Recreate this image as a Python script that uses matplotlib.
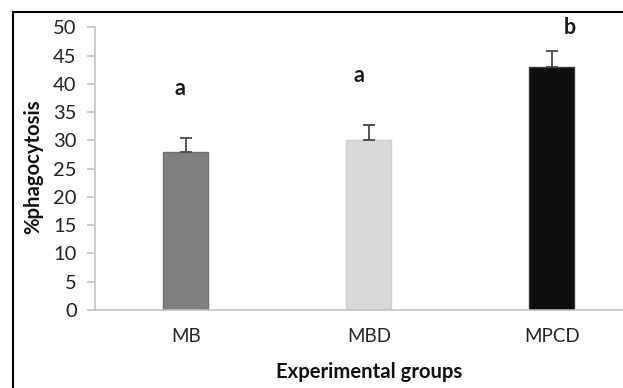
import numpy as np
import matplotlib
matplotlib.use("Agg")
import matplotlib.pyplot as plt
from matplotlib.patches import Rectangle

# ============================
# DATA
# ============================
groups = ["MB", "MBD", "MPCD"]
phago = [28.0, 30.0, 43.0]
err_up = [2.4, 2.8, 2.8]
letters = ["a", "a", "b"]
letter_x = [-0.035, 0.945, 2.10]
letter_y = [38.0, 40.3, 48.8]
colors = ["#7f7f7f", "#d9d9d9", "#0d0d0d"]
edges = ["#6f6f6f", "#cfcfcf", "#3a3a3a"]

plt.rcParams["font.family"] = ["Lato", "DejaVu Sans"]

fig = plt.figure(figsize=(6.23, 3.88), dpi=100)
ax = fig.add_axes([0.1517, 0.201, 0.881, 0.7286])

x = np.arange(len(groups))
ax.bar(x, phago, width=0.246, color=colors, edgecolor=edges, linewidth=1.0, zorder=2)
ax.errorbar(x, phago, yerr=[np.zeros(len(err_up)), err_up], fmt="none",
            ecolor="#4a4a4a", elinewidth=1.3, capsize=4, capthick=1.3, zorder=3)

for lx, ly, t in zip(letter_x, letter_y, letters):
    ax.text(lx, ly, t, ha="center", va="baseline", fontsize=15.5,
            fontweight="bold", color="#1a1a1a", clip_on=False)

# axes styling (excel look)
ax.set_xlim(-0.5, 2.5)
ax.set_ylim(0, 50)
ax.set_yticks(np.arange(0, 51, 5))
ax.set_xticks(x)
ax.set_xticklabels(groups)
for s in ["top", "right"]:
    ax.spines[s].set_visible(False)
for s in ["left", "bottom"]:
    ax.spines[s].set_color("#bfbfbf")
    ax.spines[s].set_linewidth(1.1)
ax.tick_params(axis="y", length=5.8, width=1.1, color="#bfbfbf", pad=7,
               labelsize=14.5, labelcolor="#222222")
ax.tick_params(axis="x", length=0, pad=13, labelsize=13.5, labelcolor="#222222")

fig.text(33 / 623, 1 - 167 / 388, "%phagocytosis", rotation=90, ha="center",
         va="center", fontsize=14.6, fontweight="bold", color="#111111")
fig.text(368.7 / 623, 1 - 371.7 / 388, "Experimental groups", ha="center",
         va="center", fontsize=14.6, fontweight="bold", color="#111111")

# outer frame (cropped at right and bottom)
fig.patches.append(Rectangle((12.5 / 623, -0.05), 1.1, 0.969 + 0.05,
                             transform=fig.transFigure, fill=False,
                             edgecolor="black", linewidth=1.5))

fig.savefig("out.png", dpi=100)
